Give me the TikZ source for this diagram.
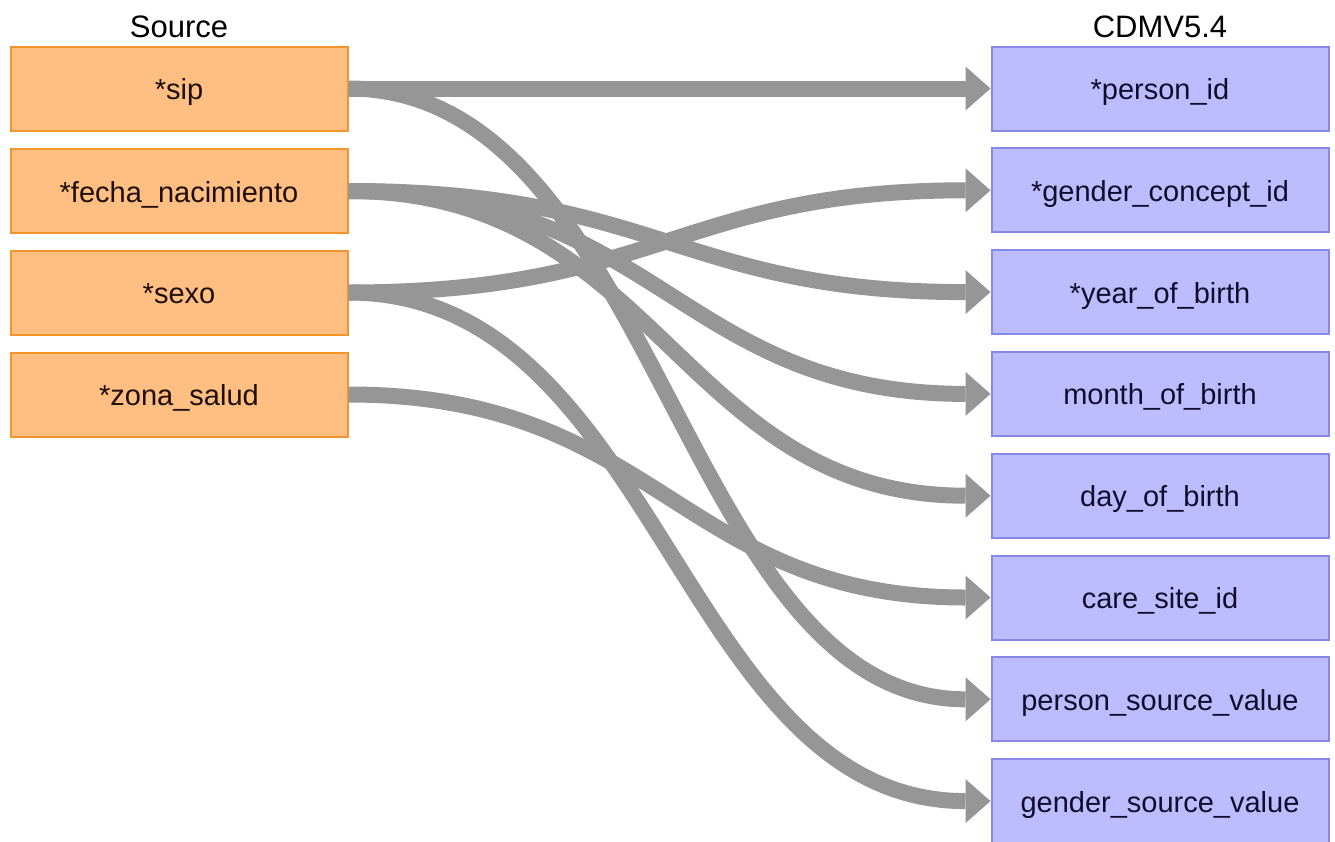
\documentclass[tikz,border=0pt]{standalone}
\usepackage{fontspec}
\setmainfont{Liberation Sans}
\usetikzlibrary{arrows.meta}
\definecolor{srcfill}{RGB}{255,190,130}
\definecolor{srcdraw}{RGB}{240,150,45}
\definecolor{cdmfill}{RGB}{188,188,255}
\definecolor{cdmdraw}{RGB}{135,135,230}
\definecolor{conncol}{RGB}{150,150,150}
\definecolor{srctext}{RGB}{30,15,5}
\definecolor{cdmtext}{RGB}{15,15,45}
\tikzset{
  boxbase/.style={line width=2pt, minimum width=337pt, minimum height=84pt, inner sep=0pt, text height=22pt, text depth=0pt, font=\fontsize{29}{34}\selectfont},
  srcbox/.style={boxbase, draw=srcdraw, fill=srcfill, text=srctext},
  cdmbox/.style={boxbase, draw=cdmdraw, fill=cdmfill, text=cdmtext},
  headlbl/.style={font=\fontsize{31}{36}\selectfont, text=black, inner sep=0pt},
  conn/.style={draw=conncol, line width=16pt, -{Triangle[length=25pt,width=44pt,line width=0pt,fill=conncol]}}
}
\begin{document}
\begin{tikzpicture}[x=1pt,y=-1pt]
\useasboundingbox[fill=white] (0,0) rectangle (1335,841);
\node[headlbl] (srchead) at (179,27) {Source};
\node[headlbl] (cdmhead) at (1160,27) {CDMV5.4};
% source boxes
\node[srcbox] (sip) at (179,88.5) {*sip};
\node[srcbox] (fecha) at (179,191) {*fecha\_nacimiento};
\node[srcbox] (sexo) at (179,292.5) {*sexo};
\node[srcbox] (zona) at (179,394.5) {*zona\_salud};
% target boxes
\node[cdmbox] (pid) at (1160,88.5) {*person\_id};
\node[cdmbox] (gcid) at (1160,190.3) {*gender\_concept\_id};
\node[cdmbox] (yob) at (1160,292.1) {*year\_of\_birth};
\node[cdmbox] (mob) at (1160,393.9) {month\_of\_birth};
\node[cdmbox] (dob) at (1160,495.7) {day\_of\_birth};
\node[cdmbox] (csid) at (1160,597.5) {care\_site\_id};
\node[cdmbox] (psv) at (1160,699.3) {person\_source\_value};
\node[cdmbox] (gsv) at (1160,801.1) {gender\_source\_value};
% connectors
\draw[conn] (sip.east) -- (pid.west);
\draw[conn] (sip.east) .. controls +(310,0) and +(-310,0) .. (psv.west);
\draw[conn] (fecha.east) .. controls +(310,0) and +(-310,0) .. (yob.west);
\draw[conn] (fecha.east) .. controls +(310,0) and +(-310,0) .. (mob.west);
\draw[conn] (fecha.east) .. controls +(310,0) and +(-310,0) .. (dob.west);
\draw[conn] (sexo.east) .. controls +(310,0) and +(-310,0) .. (gcid.west);
\draw[conn] (sexo.east) .. controls +(310,0) and +(-310,0) .. (gsv.west);
\draw[conn] (zona.east) .. controls +(310,0) and +(-310,0) .. (csid.west);
\end{tikzpicture}
\end{document}
